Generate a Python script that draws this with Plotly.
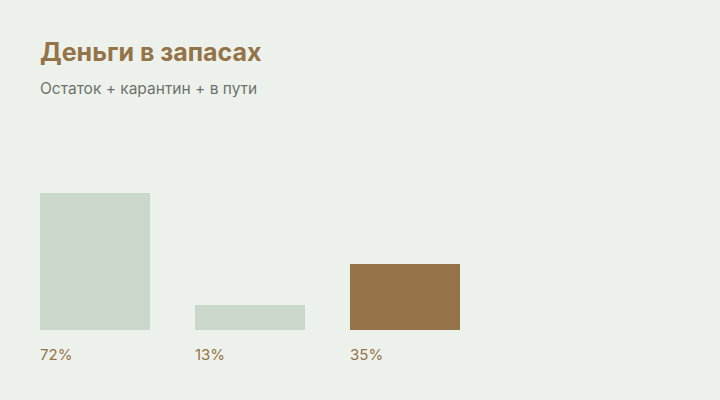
import plotly.graph_objects as go

# data
categories = ["Остаток", "Карантин", "В пути"]
values = [72, 13, 35]
labels = ["72%", "13%", "35%"]
highlight = [False, False, True]
title = "Деньги в запасах"
subtitle = "Остаток + карантин + в пути"

BG = "#EDF1EB"
BROWN = "#937347"
PALE = "#CAD8CC"
GREY = "#6D736C"

bar_w = 110 / 155
x_pos = list(range(len(categories)))
colors = [BROWN if h else PALE for h in highlight]

fig = go.Figure()
fig.add_trace(go.Bar(
    x=x_pos, y=values, width=bar_w,
    marker=dict(color=colors, line=dict(width=0)),
    hoverinfo="skip", showlegend=False,
))

# percentage labels under each bar, left aligned with bar edge
for xi, lab in zip(x_pos, labels):
    fig.add_annotation(
        x=xi - bar_w / 2, y=0, xref="x", yref="y",
        text=lab, showarrow=False, xanchor="left", yanchor="top",
        xshift=-2, yshift=-13, font=dict(family="Inter", size=15, color=BROWN),
    )

# title + subtitle (plot area is 190px tall, bottom at 330px)
fig.add_annotation(
    x=0, y=(330 - 52) / 190, xref="paper", yref="paper", text="<b>" + title + "</b>",
    showarrow=False, xanchor="left", yanchor="middle", xshift=-2,
    font=dict(family="Inter", size=25, color=BROWN),
)
fig.add_annotation(
    x=0, y=(330 - 88) / 190, xref="paper", yref="paper", text=subtitle,
    showarrow=False, xanchor="left", yanchor="middle", xshift=-2,
    font=dict(family="Inter", size=15.5, color=GREY),
)

fig.update_layout(
    width=720, height=400,
    paper_bgcolor=BG, plot_bgcolor=BG,
    margin=dict(l=40, r=0, t=140, b=70),
    font=dict(family="Inter", color=BROWN),
    xaxis=dict(range=[-bar_w / 2, 680 / 155 - bar_w / 2], visible=False, fixedrange=True),
    yaxis=dict(range=[0, 100], visible=False, fixedrange=True),
    bargap=0,
)

fig.write_html("out.html", config={"displayModeBar": False},
               post_script="document.body.style.margin='0';")
